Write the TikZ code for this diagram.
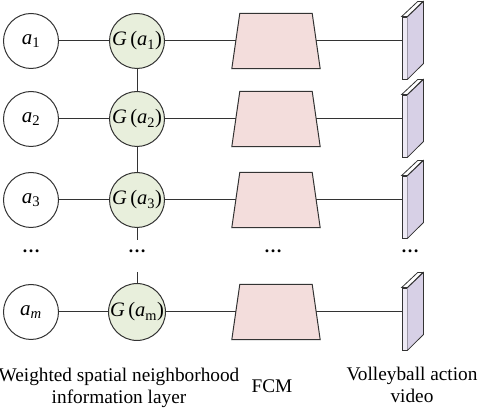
\documentclass[tikz,border=0pt]{standalone}
\usepackage{fontspec}
\setmainfont{Liberation Serif}
\definecolor{lc}{HTML}{333333}
\definecolor{gfill}{HTML}{E8EFDC}
\definecolor{tfill}{HTML}{F3DDDC}
\definecolor{pside}{HTML}{D7D0E6}
\definecolor{pfront}{HTML}{EEEAF5}
\tikzset{
  conn/.style={draw=lc, line width=1pt},
  acirc/.style={circle, draw=lc, line width=1pt, fill=white, minimum size=55pt, inner sep=0pt, font=\fontsize{21}{24}\selectfont},
  gcirc/.style={circle, draw=lc, line width=1pt, fill=gfill, minimum size=55pt, inner sep=0pt, font=\fontsize{20.5}{24}\selectfont},
  fcmbox/.style={rectangle, minimum width=80pt, minimum height=55pt, inner sep=0pt},
  pfr/.style={rectangle, draw=lc, line width=0.8pt, fill=pfront, minimum width=5pt, minimum height=62pt, inner sep=0pt},
  dotsl/.style={font=\fontsize{18}{20}\selectfont\bfseries},
  lbl/.style={font=\fontsize{19.3}{22.5}\selectfont, align=center}
}
\newcommand{\panelsides}[1]{%
  \fill[pside] (#1.north east) -- ++(16,15) -- ++(0,-62) -- (#1.south east) -- cycle;
  \draw[lc, line width=0.8pt] (#1.north east) -- ++(16,15) -- ++(0,-62) -- (#1.south east);
  \draw[lc, line width=0.8pt, fill=white] (#1.north west) -- ++(16,15) -- ++(5,0) -- (#1.north east) -- cycle;
}
\newcommand{\trap}[1]{%
  \draw[lc, line width=1pt, fill=tfill] ([xshift=4pt]#1.north west) -- ([xshift=-4pt]#1.north east) -- ([xshift=4pt]#1.south east) -- ([xshift=-4pt]#1.south west) -- cycle;
}
\newcommand{\onerow}[5]{%
  \node[acirc] (a#1) at (31pt,#2) {\textit{a}\textsubscript{#3}};
  \node[gcirc] (g#1) at (137pt,#2) {\textit{G}\,(\textit{a}\textsubscript{#4})};
  \node[fcmbox] (t#1) at (276pt,#2) {};
  \trap{t#1}
  \node[pfr] (p#1) at (404.5pt,#5) {};
  \panelsides{p#1}
  \draw[conn] (a#1) -- (g#1);
  \draw[conn] (g#1) -- (t#1.west);
  \draw[conn] (t#1.east) -- (t#1.east -| p#1.west);
}
\begin{document}
\begin{tikzpicture}[x=1pt,y=1pt]
\useasboundingbox (0,-411) rectangle (480,0);
\onerow{1}{-41pt}{1}{1}{-48pt}
\onerow{2}{-119pt}{2}{2}{-126pt}
\onerow{3}{-200pt}{3}{3}{-207pt}
\onerow{m}{-312pt}{\textit{m}}{m}{-319pt}
\coordinate (v1) at (137,-240);
\coordinate (v2) at (137,-272);
\draw[conn] (g1) -- (g2);
\draw[conn] (g2) -- (g3);
\draw[conn] (g3) -- (v1);
\draw[conn] (v2) -- (gm);
% dots
\node[dotsl] (d1) at (31,-251) {…};
\node[dotsl] (d2) at (137,-251) {…};
\node[dotsl] (d3) at (273,-251) {…};
\node[dotsl] (d4) at (410,-251) {…};
% labels
\node[lbl] (l1) at (119,-388) {Weighted spatial neighborhood\\information layer};
\node[lbl] (l2) at (272,-386) {FCM};
\node[lbl] (l3) at (412,-385) {Volleyball action\\video};
\end{tikzpicture}
\end{document}
